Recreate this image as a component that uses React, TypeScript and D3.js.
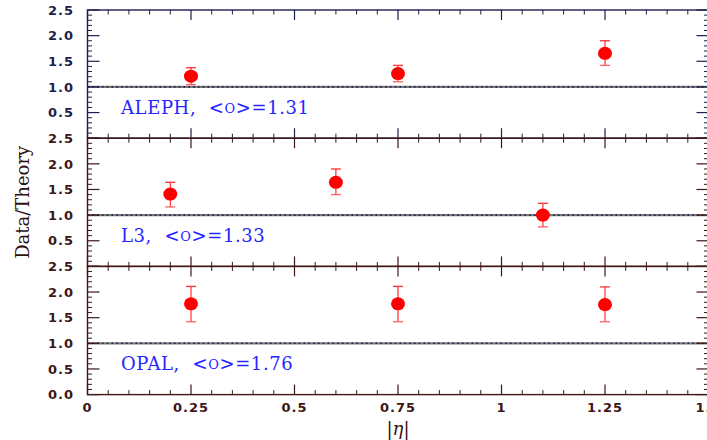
import React from "react";
import * as d3 from "d3";

const experiments = ["ALEPH", "L3", "OPAL"];
const averages = ["1.31", "1.33", "1.76"];
const alephX = [0.25, 0.75, 1.25];
const alephY = [1.21, 1.26, 1.655];
const alephLo = [1.045, 1.1, 1.42];
const alephHi = [1.375, 1.42, 1.9];
const l3X = [0.2, 0.6, 1.1];
const l3Y = [1.41, 1.64, 1.0];
const l3Lo = [1.16, 1.4, 0.77];
const l3Hi = [1.64, 1.9, 1.23];
const opalX = [0.25, 0.75, 1.25];
const opalY = [1.77, 1.77, 1.755];
const opalLo = [1.42, 1.42, 1.42];
const opalHi = [2.11, 2.11, 2.1];
const xTickLabels = ["0", "0.25", "0.5", "0.75", "1", "1.25", "1.5"];
const yTickLabels = ["0.0", "0.5", "1.0", "1.5", "2.0", "2.5"];

const seriesX = [alephX, l3X, opalX];
const seriesY = [alephY, l3Y, opalY];
const seriesLo = [alephLo, l3Lo, opalLo];
const seriesHi = [alephHi, l3Hi, opalHi];

const W = 707;
const H = 440;
const left = 87.5;
const right = 708.5;
const top0 = 10;
const ph = 128.2;
const axisColors = ["#1e1e4c", "#3e1616", "#3e1616"];
const labelFont = "'DejaVu Sans', sans-serif";

export default function App() {
  const x = d3.scaleLinear().domain([0, 1.5]).range([left, right]);
  const majorX = d3.range(0, 7).map((i) => i * 0.25);
  const minorX = d3.range(0, 31).map((i) => i * 0.05).filter((v) => Math.abs(v / 0.25 - Math.round(v / 0.25)) > 1e-6);
  const majorY = d3.range(0, 6).map((i) => i * 0.5);
  const minorY = d3.range(0, 26).map((i) => i * 0.1).filter((v) => Math.abs(v / 0.5 - Math.round(v / 0.5)) > 1e-6);

  const panels = experiments.map((name, p) => {
    const t = top0 + p * ph;
    const y = d3.scaleLinear().domain([0, 2.5]).range([t + ph, t]);
    const c = axisColors[p];
    const isLast = p === experiments.length - 1;
    return (
      <g key={name}>
        <line x1={left} x2={right} y1={y(1)} y2={y(1)} stroke="#7a7a7a" strokeWidth={2.2} />
        <line x1={left} x2={right} y1={y(1)} y2={y(1)} stroke="#20204a" strokeWidth={1.6} strokeDasharray="1.6,3.2" />
        <rect x={left} y={t} width={right - left} height={ph} fill="none" stroke={c} strokeWidth={1.4} />
        {majorX.map((v) => (
          <g key={"mx" + v}>
            <line x1={x(v)} x2={x(v)} y1={t} y2={t + 10} stroke={c} strokeWidth={1.2} />
            <line x1={x(v)} x2={x(v)} y1={t + ph} y2={t + ph - 10} stroke={c} strokeWidth={1.2} />
          </g>
        ))}
        {minorX.map((v) => (
          <g key={"nx" + v}>
            <line x1={x(v)} x2={x(v)} y1={t} y2={t + 4.5} stroke={c} strokeWidth={1} />
            <line x1={x(v)} x2={x(v)} y1={t + ph} y2={t + ph - 4.5} stroke={c} strokeWidth={1} />
          </g>
        ))}
        {majorY.map((v) => (
          <g key={"my" + v}>
            <line x1={left} x2={left + 12} y1={y(v)} y2={y(v)} stroke={c} strokeWidth={1.2} />
            <line x1={right} x2={right - 12} y1={y(v)} y2={y(v)} stroke={c} strokeWidth={1.2} />
          </g>
        ))}
        {minorY.map((v) => (
          <g key={"ny" + v}>
            <line x1={left} x2={left + 4.5} y1={y(v)} y2={y(v)} stroke={c} strokeWidth={1} />
            <line x1={right} x2={right - 4.5} y1={y(v)} y2={y(v)} stroke={c} strokeWidth={1} />
          </g>
        ))}
        {majorY.map((v, i) =>
          i === 0 && !isLast ? null : (
            <text key={"yl" + v} x={74} y={y(v)} dy="0.36em" textAnchor="end" fontFamily={labelFont}
              fontWeight="bold" fontSize={13} letterSpacing={1} fill={c}>
              {yTickLabels[i]}
            </text>
          )
        )}
        {seriesX[p].map((xv, i) => {
          const cx = x(xv);
          return (
            <g key={"pt" + i}>
              <line x1={cx} x2={cx} y1={y(seriesLo[p][i])} y2={y(seriesHi[p][i])} stroke="#ff3030" strokeWidth={1.2} />
              <line x1={cx - 5} x2={cx + 5} y1={y(seriesHi[p][i])} y2={y(seriesHi[p][i])} stroke="#ff3030" strokeWidth={1.3} />
              <line x1={cx - 5} x2={cx + 5} y1={y(seriesLo[p][i])} y2={y(seriesLo[p][i])} stroke="#ff6060" strokeWidth={1.3} />
              <ellipse cx={cx} cy={y(seriesY[p][i])} rx={7} ry={6.5} fill="#ff0000" />
            </g>
          );
        })}
        <text x={121} y={y(0.47)} fontFamily="'DejaVu Serif', serif" fontSize={18} letterSpacing={0.6} fill="#2525ff">
          {name + ",\u00a0\u00a0<"}
          <tspan fontSize={13} dy={-1.2}>O</tspan>
          <tspan dy={1.2}>{">=" + averages[p]}</tspan>
        </text>
      </g>
    );
  });

  return (
    <svg width={W} height={H} style={{ position: "absolute", left: 0, top: 0, background: "#fff" }}>
      <rect width={W} height={H} fill="#fff" />
      {panels}
      {majorX.map((v, i) => (
        <text key={"xl" + v} x={x(v)} y={412} textAnchor={i === 6 ? "start" : "middle"}
          dx={i === 6 ? -13 : 0} fontFamily={labelFont} fontWeight="bold"
          fontSize={13} letterSpacing={1} fill="#3e1616">
          {xTickLabels[i]}
        </text>
      ))}
      <text transform={`translate(29,${top0 + 1.5 * ph}) rotate(-90)`} textAnchor="middle"
        fontFamily="'DejaVu Serif', serif" fontSize={18} fill="#2e1010">
        Data/Theory
      </text>
      <text x={x(0.75)} y={435} textAnchor="middle" fontFamily="'DejaVu Serif', serif" fontSize={18} fill="#2e1010">
        |<tspan fontStyle="italic">η</tspan>|
      </text>
    </svg>
  );
}
